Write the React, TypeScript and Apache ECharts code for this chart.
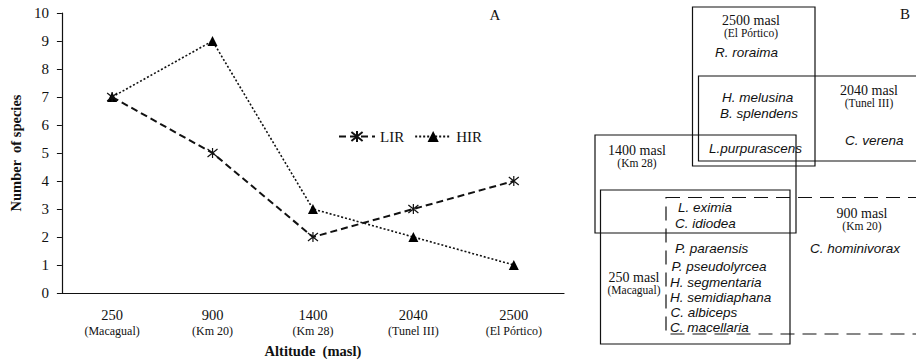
import React, { useEffect, useRef } from "react";
import * as echarts from "echarts";

// ---- Panel A data ----
const categories = ["250", "900", "1400", "2040", "2500"];
const siteNames = ["(Macagual)", "(Km 20)", "(Km 28)", "(Tunel III)", "(El Pórtico)"];
const lirValues = [7, 5, 2, 3, 4];
const hirValues = [7, 9, 3, 2, 1];

// ---- Panel B data ----
const head2500 = ["2500 masl", "(El Pórtico)"];
const head2040 = ["2040 masl", "(Tunel III)"];
const head1400 = ["1400 masl", "(Km 28)"];
const head900 = ["900 masl", "(Km 20)"];
const head250 = ["250 masl", "(Macagual)"];
const only2500 = ["R. roraima"];
const shared2500_2040 = ["H. melusina", "B. splendens"];
const shared2500_2040_1400 = ["L.purpurascens"];
const only2040 = ["C. verena"];
const shared1400_250_900 = ["L. eximia", "C. idiodea"];
const only900 = ["C. hominivorax"];
const shared250_900 = ["P. paraensis", "P. pseudolyrcea", "H. segmentaria", "H. semidiaphana", "C. albiceps", "C. macellaria"];

const SERIF = "'Liberation Serif', 'Times New Roman', serif";
const SANS = "'Liberation Sans', Arial, sans-serif";

const asterisk = "path://M0,1L10,9M10,1L0,9M5,0L5,10";

export default function App() {
  const ref = useRef<HTMLDivElement>(null);
  useEffect(() => {
    if (!ref.current) return;
    const chart = echarts.init(ref.current, null, { renderer: "svg" });

    const graphics: any[] = [];
    const rect = (x: number, y: number, w: number, h: number, dashed = false) =>
      graphics.push({
        type: "rect",
        shape: { x, y, width: w, height: h },
        style: { fill: "none", stroke: "#111", lineWidth: 1.2, lineDash: dashed ? [14, 8] : null },
        silent: true,
      });
    const text = (t: string, x: number, y: number, size: number, align: string, italic = false, font = SERIF) =>
      graphics.push({
        type: "text",
        x,
        y,
        style: {
          text: t,
          fontSize: size,
          fontFamily: font,
          fontStyle: italic ? "italic" : "normal",
          fill: "#111",
          textAlign: align,
          textVerticalAlign: "middle",
        },
        silent: true,
      });
    const header = (h: string[], cx: number, cy: number) => {
      text(h[0], cx, cy, 14, "center");
      text(h[1], cx, cy + 13, 11.5, "center");
    };

    // boxes
    rect(692.5, 7, 122.5, 159);
    rect(698.5, 76, 222, 85);
    rect(595, 135, 201, 98);
    rect(600.5, 190, 189.5, 154);
    rect(666, 197.5, 260, 136.5, true);

    header(head2500, 751, 20);
    header(head2040, 869, 90);
    header(head1400, 637, 150);
    header(head900, 862, 213);
    header(head250, 634, 277);

    const SP = 13.5;
    text(only2500[0], 715, 52, SP, "left", true, SANS);
    text(shared2500_2040[0], 722, 97, SP, "left", true, SANS);
    text(shared2500_2040[1], 720, 113, SP, "left", true, SANS);
    text(shared2500_2040_1400[0], 709, 148, SP, "left", true, SANS);
    text(only2040[0], 845, 140, SP, "left", true, SANS);
    text(shared1400_250_900[0], 678, 207, SP, "left", true, SANS);
    text(shared1400_250_900[1], 675, 223, SP, "left", true, SANS);
    text(only900[0], 810, 248, SP, "left", true, SANS);
    const listX = [675, 671.5, 670, 670, 670.5, 670];
    const listY = [248, 266, 282, 297, 312, 327];
    shared250_900.forEach((s, i) => text(s, listX[i], listY[i], SP, "left", true, SANS));

    text("A", 495, 15, 15, "center");
    text("B", 905, 14, 15, "center");

    chart.setOption({
      animation: false,
      backgroundColor: "#fff",
      textStyle: { fontFamily: SERIF, color: "#111" },
      grid: { left: 58, right: 352, top: 13, bottom: 68, containLabel: false },
      legend: {
        left: 338,
        top: 129,
        padding: 0,
        itemWidth: 36,
        itemHeight: 14,
        itemGap: 10,
        textStyle: { fontFamily: SERIF, fontSize: 15, color: "#111", padding: [0, 0, 0, 0] },
        data: ["LIR", "HIR"],
      },
      xAxis: {
        type: "category",
        data: categories,
        boundaryGap: true,
        axisLine: { lineStyle: { color: "#111", width: 1.2 } },
        axisTick: { show: false },
        axisLabel: {
          margin: 14,
          interval: 0,
          formatter: (v: string, i: number) => `{a|${v}}\n{b|${siteNames[i]}}`,
          rich: {
            a: { fontFamily: SERIF, fontSize: 14.5, lineHeight: 16, color: "#111" },
            b: { fontFamily: SERIF, fontSize: 12, lineHeight: 16, color: "#111" },
          },
        },
        name: "Altitude  (masl)",
        nameLocation: "middle",
        nameGap: 50,
        nameTextStyle: { fontFamily: SERIF, fontSize: 14.5, fontWeight: "bold", color: "#111" },
      },
      yAxis: {
        type: "value",
        min: 0,
        max: 10,
        interval: 1,
        splitLine: { show: false },
        axisLine: { show: true, lineStyle: { color: "#111", width: 1.2 } },
        axisTick: { show: true, inside: false, length: 5, lineStyle: { color: "#111" } },
        axisLabel: { margin: 13, fontFamily: SERIF, fontSize: 15, color: "#111" },
        name: "Number  of species",
        nameLocation: "middle",
        nameGap: 36,
        nameTextStyle: { fontFamily: SERIF, fontSize: 14.5, fontWeight: "bold", color: "#111" },
      },
      series: [
        {
          name: "LIR",
          type: "line",
          data: lirValues,
          symbol: asterisk,
          symbolSize: 10,
          lineStyle: { color: "#111", width: 2, type: [7, 4] },
          itemStyle: { color: "rgba(0,0,0,0)", borderColor: "#111", borderWidth: 1.2 },
          z: 3,
        },
        {
          name: "HIR",
          type: "line",
          data: hirValues,
          symbol: "triangle",
          symbolSize: 10,
          lineStyle: { color: "#111", width: 1.6, type: [2, 2] },
          itemStyle: { color: "#000" },
          z: 2,
        },
      ],
      graphic: graphics,
    });
    return () => chart.dispose();
  }, []);
  return <div ref={ref} style={{ position: "absolute", left: 0, top: 0, width: 916, height: 363 }} />;
}
